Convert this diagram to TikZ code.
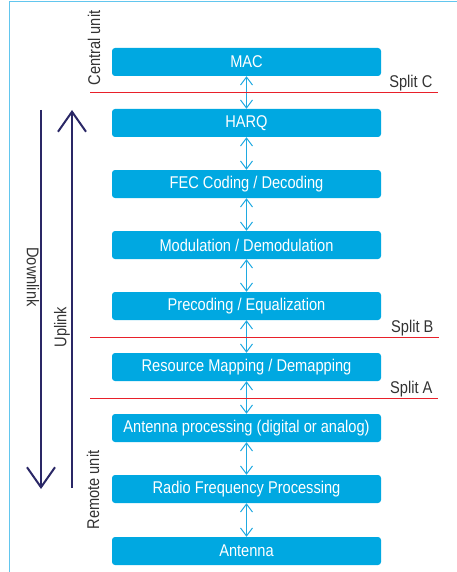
\documentclass[tikz,border=0pt]{standalone}
\usepackage{fontspec}
\setmainfont{Liberation Sans}[FakeStretch=0.86]
\usetikzlibrary{arrows.meta}

\definecolor{boxblue}{HTML}{00A8E1}
\definecolor{linkblue}{HTML}{1FA9E1}
\definecolor{framblue}{HTML}{62C6EE}
\definecolor{splitred}{HTML}{E8202A}
\definecolor{navy}{HTML}{2A2766}
\definecolor{txtgray}{HTML}{333333}

\tikzset{
  layer/.style={fill=boxblue,text=white,rounded corners=3pt,minimum width=269pt,minimum height=28pt,inner sep=0pt,font=\fontsize{17}{19}\selectfont},
  link/.style={linkblue,line width=1pt,{Straight Barb[length=8pt,width=12pt]}-{Straight Barb[length=8pt,width=12pt]}},
  split/.style={draw=splitred,line width=1.2pt},
  splitlbl/.style={anchor=south east,text=txtgray,inner sep=1pt,font=\fontsize{17}{19}\selectfont},
  flow/.style={navy,line width=2pt,-{Straight Barb[length=20pt,width=28pt,line width=2pt]}},
  sidelbl/.style={text=txtgray,inner sep=0pt,font=\fontsize{17}{19}\selectfont}
}

\begin{document}
\begin{tikzpicture}[x=1pt,y=-1pt]
\useasboundingbox (0,0) rectangle (457,572);
\draw[framblue,line width=1.5pt] (457,1.5) -- (9.5,1.5) -- (9.5,572);

\node[layer] (mac)   at (246.5,62)  {MAC};
\node[layer] (harq)  at (246.5,123) {HARQ};
\node[layer] (fec)   at (246.5,184) {FEC Coding / Decoding};
\node[layer] (mod)   at (246.5,245) {Modulation / Demodulation};
\node[layer] (prec)  at (246.5,306) {Precoding / Equalization};
\node[layer] (rmap)  at (246.5,367) {Resource Mapping / Demapping};
\node[layer] (aproc) at (246.5,428) {Antenna processing (digital or analog)};
\node[layer] (rf)    at (246.5,489) {Radio Frequency Processing};
\node[layer] (ant)   at (246.5,551) {Antenna};

\foreach \a/\b in {mac/harq,harq/fec,fec/mod,mod/prec,prec/rmap,rmap/aproc,aproc/rf,rf/ant}
  \draw[link] (\a.south) -- (\b.north);

\draw[split] (90,92.5) -- (438,92.5) node[splitlbl,pos=1,xshift=-4pt] {Split C};
\draw[split] (90,337.5) -- (439,337.5) node[splitlbl,pos=1,xshift=-4pt] {Split B};
\draw[split] (90,398.5) -- (438,398.5) node[splitlbl,pos=1,xshift=-4pt] {Split A};

\coordinate (dltop) at (41,110);
\coordinate (dlbot) at (41,489);
\coordinate (ulbot) at (72,488);
\coordinate (ultop) at (72,110);
\draw[flow] (dltop) -- (dlbot);
\draw[flow] (ulbot) -- (ultop);

\node[sidelbl,rotate=-90] (dl) at (33,277) {Downlink};
\node[sidelbl,rotate=90]  (ul) at (62,327) {Uplink};
\node[sidelbl,rotate=90]  (cu) at (94,48)  {Central unit};
\node[sidelbl,rotate=90]  (ru) at (93,490) {Remote unit};
\end{tikzpicture}
\end{document}
